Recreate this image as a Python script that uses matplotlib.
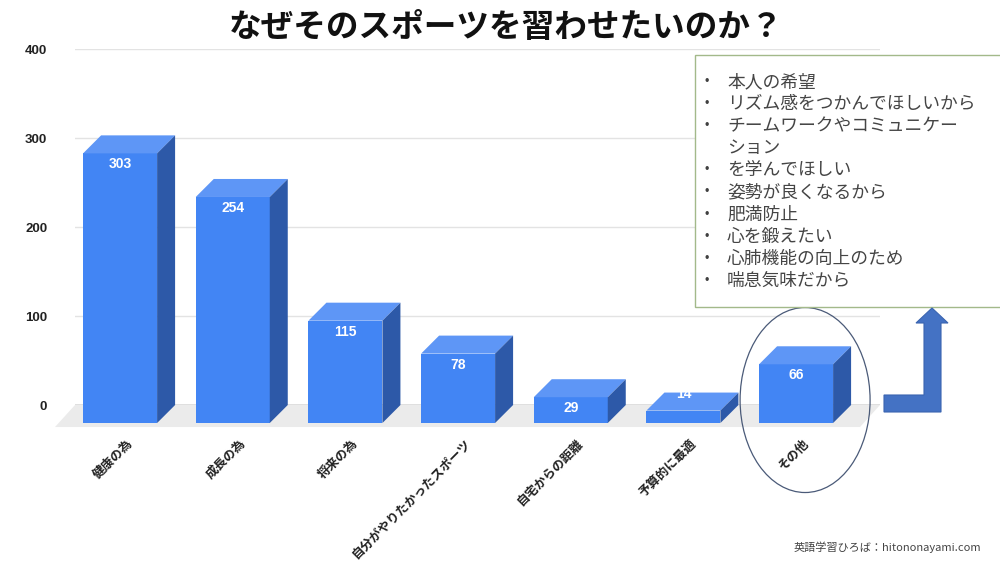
import matplotlib.pyplot as plt
import numpy as np
from matplotlib.patches import Polygon, Rectangle, Ellipse

plt.rcParams['font.family'] = ['Noto Sans CJK JP', 'DejaVu Sans']

title = 'なぜそのスポーツを習わせたいのか？'
categories = ['健康の為', '成長の為', '将来の為', '自分がやりたかったスポーツ',
              '自宅からの距離', '予算的に最適', 'その他']
counts = [303, 254, 115, 78, 29, 14, 66]
y_ticks = [0, 100, 200, 300, 400]
other_items = ['本人の希望', 'リズム感をつかんでほしいから',
               'チームワークやコミュニケー\nション', 'を学んでほしい',
               '姿勢が良くなるから', '肥満防止', '心を鍛えたい',
               '心肺機能の向上のため', '喘息気味だから']
footer = '英語学習ひろば：hitononayami.com'

front_c = '#4285F4'
top_c = '#5E96F6'
side_c = '#2D59A8'
num_font = ['Liberation Sans', 'DejaVu Sans']

fig = plt.figure(figsize=(10, 5.63), dpi=100)
ax = fig.add_axes([0.075, 0.2806, 0.805, 0.6323])
xlim = (-0.56, 6.585)
ax.set_xlim(xlim)
ax.set_ylim(0, 400)

# pixel -> data scale for the fake 3D depth
px_x = 805 / (xlim[1] - xlim[0])
px_y = 356 / 400
dx = 18 / px_x
dy = 18 / px_y
w = 74 / px_x

x = np.arange(len(counts))

# floor
fx, fy = 20 / px_x, 22 / px_y
ax.add_patch(Polygon([(xlim[0], 0), (xlim[1], 0), (xlim[1] - fx, -fy), (xlim[0] - fx, -fy)],
                     closed=True, facecolor='#EBEBEB', edgecolor='none', zorder=0.8, clip_on=False))
ax.axhline(0, color='#777777', lw=1, zorder=1)

for xi, v in zip(x, counts):
    l, r = xi - w / 2, xi + w / 2
    ax.add_patch(Polygon([(l - dx, -dy), (r - dx, -dy), (r - dx, v - dy), (l - dx, v - dy)],
                         closed=True, facecolor=front_c, edgecolor='none', zorder=3, clip_on=False))
    ax.add_patch(Polygon([(l - dx, v - dy), (r - dx, v - dy), (r, v), (l, v)],
                         closed=True, facecolor=top_c, edgecolor='none', zorder=3, clip_on=False))
    ax.add_patch(Polygon([(r - dx, -dy), (r, 0), (r, v), (r - dx, v - dy)],
                         closed=True, facecolor=side_c, edgecolor='none', zorder=3, clip_on=False))
    if v * px_y > 20:
        ty = v - dy - 11 / px_y
    else:
        ty = v - 1 / px_y
    ax.text(xi - dx, ty, str(v), color='white', fontsize=10, fontweight='bold', family=num_font,
            ha='center', va='center', zorder=4, clip_on=False)

ax.set_yticks(y_ticks)
ax.set_yticklabels([str(t) for t in y_ticks], fontweight='bold', fontsize=9.5,
                   color='#222222', family=num_font)
ax.set_xticks(x - dx + 6 / px_x)
ax.set_xticklabels(categories, rotation=45, ha='right', va='top', rotation_mode='anchor',
                   fontsize=9, fontweight='bold', color='#222222')
ax.tick_params(axis='y', length=0, pad=20)
ax.tick_params(axis='x', length=0, pad=23)
ax.grid(axis='y', color='#E3E3E3', lw=1)
ax.set_axisbelow(True)
for s in ax.spines.values():
    s.set_visible(False)

# circle around "other"
ax.add_patch(Ellipse((6 - 9 / px_x, 5 / px_y), 130 / px_x, 185 / px_y, fill=False,
                     edgecolor='#4A5A78', lw=0.9, zorder=5, clip_on=False))

fig.text(0.506, 1 - 27 / 563, title, fontsize=23.5, fontweight='bold',
         ha='center', va='center', color='#111111')

# text box listing "other" answers
fig.add_artist(Rectangle((0.695, 1 - 307 / 563), 0.32, 252 / 563, transform=fig.transFigure,
                         facecolor='white', edgecolor='#A3B98A', lw=1, zorder=6))
line = 0
for item in other_items:
    for k, part in enumerate(item.split('\n')):
        yy = 1 - (82 + line * 22.1) / 563
        if k == 0:
            fig.text(0.7065, yy, '•', fontsize=9, color='#404040', ha='center', va='center',
                     family=num_font, zorder=7)
        fig.text(0.727, yy, part, fontsize=12.8, color='#454545', ha='left', va='center', zorder=7)
        line += 1

# bent-up arrow
arrow_px = [(884, 395), (924, 395), (924, 323), (916, 323), (932, 308), (948, 323),
            (941, 323), (941, 412), (884, 412)]
fig.add_artist(Polygon([(px / 1000, 1 - py / 563) for px, py in arrow_px], closed=True,
                       transform=fig.transFigure, facecolor='#4472C4', edgecolor='#3A64B0',
                       lw=0.8, zorder=6))

fig.text(0.981, 1 - 547 / 563, footer, fontsize=8, color='#444444', ha='right', va='center')

fig.savefig('out.png', dpi=100)
